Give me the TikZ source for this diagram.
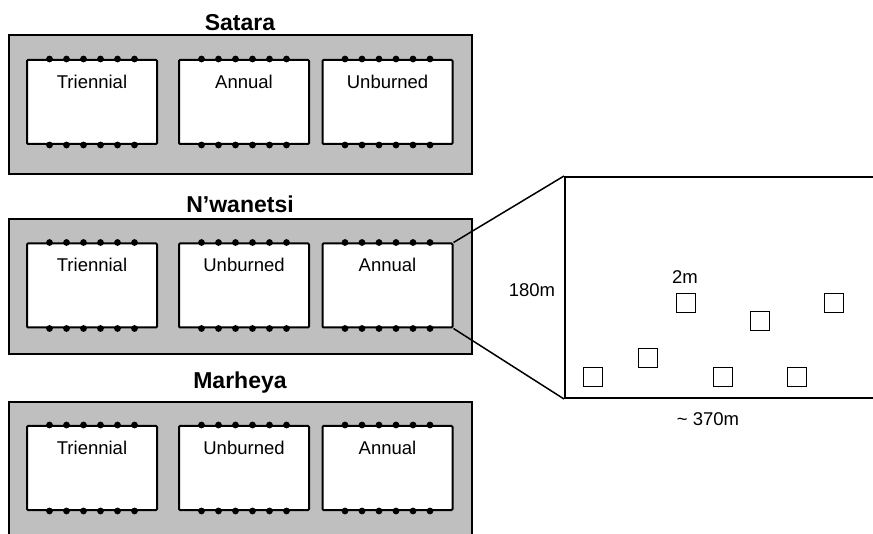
\documentclass[tikz,border=0pt]{standalone}
\usepackage{fontspec}
\setmainfont{Liberation Sans}
\begin{document}
\begin{tikzpicture}[x=1pt,y=-1pt,
  site/.style={draw=black, line width=2pt, fill=gray!50, inner sep=0pt},
  plot/.style={draw=black, line width=2pt, fill=white, rounded corners=1pt,
    minimum width=130pt, minimum height=84pt, inner sep=0pt},
  sitename/.style={font=\fontsize{23}{26}\selectfont\bfseries, inner sep=0pt},
  plotname/.style={font=\fontsize{18.5}{22}\selectfont, inner sep=0pt, anchor=base},
  detailbox/.style={draw=black, line width=2pt, fill=white, inner sep=0pt},
  quad/.style={draw=black, line width=1.8pt, minimum size=19pt, inner sep=0pt},
  dimlabel/.style={font=\fontsize{18.5}{22}\selectfont, inner sep=0pt},
  zoomline/.style={draw=black, line width=1.5pt}]
\useasboundingbox (0,0) rectangle (873,534);

% site panels
\node[site, minimum width=463pt, minimum height=139pt] (satara) at (240.5,104.5) {};
\node[site, minimum width=463pt, minimum height=135pt] (nwan) at (240.5,286.5) {};
\node[site, minimum width=463pt, minimum height=160pt] (marh) at (240.5,482) {};

\node[sitename] (tS) at (240,23) {Satara};
\node[sitename] (tN) at (240,204) {N’wanetsi};
\node[sitename] (tM) at (240,383) {Marheya};

% plots: name, centre x, centre y, label
\foreach \nm/\cx/\cy/\lab in {
    s1/92/102/Triennial, s2/244/102/Annual, s3/387.5/102/Unburned,
    n1/92/285.5/Triennial, n2/244/285.5/Unburned, n3/387.5/285.5/Annual,
    m1/92/468/Triennial, m2/244/468/Unburned, m3/387.5/468/Annual} {
  \node[plot] (\nm) at (\cx,\cy) {};
  \node[plotname] (\nm-lab) at ([yshift=-29.5pt]\nm.north) {\lab};
  \foreach \k in {0,...,5} {
    \fill ([xshift={(-42.5+17*\k)*1pt}]\nm.north) circle (3.4pt);
    \fill ([xshift={(-42.5+17*\k)*1pt}]\nm.south) circle (3.4pt);
  }
}

% enlarged plot
\node[detailbox, minimum width=315pt, minimum height=221pt] (detail) at (722.5,287.5) {};
\draw[zoomline] (n3.north east) -- (detail.north west);
\draw[zoomline] (n3.south east) -- (detail.south west);

\foreach \nm/\cx/\cy in {q1/593/377, q2/648/358, q3/686/303, q4/723/377,
                         q5/760/321, q6/797/377, q7/834/303}
  \node[quad] (\nm) at (\cx,\cy) {};

\node[dimlabel] (h) at (532,290) {180m};
\node[dimlabel] (qs) at (685,277) {2m};
\node[dimlabel] (w) at (708,419) {\textasciitilde{} 370m};
\end{tikzpicture}
\end{document}
